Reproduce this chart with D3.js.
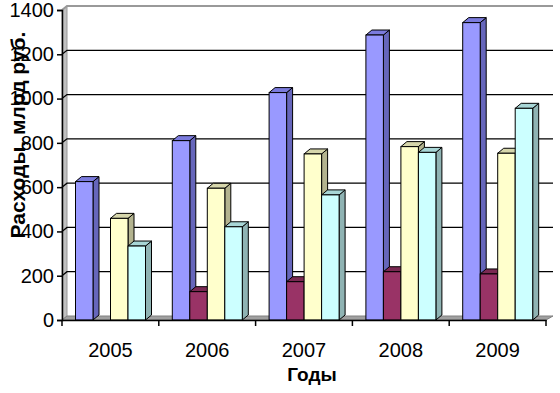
<!DOCTYPE html>
<html>
<head>
<meta charset="utf-8">
<script src="https://cdn.jsdelivr.net/npm/d3@7"></script>
<style>
  body { margin: 0; background: #fff; }
  text { font-family: "Liberation Sans", Arial, sans-serif; }
</style>
</head>
<body>
<div id="chart"></div>
<script>
// data
const years = ["2005", "2006", "2007", "2008", "2009"]
const seriesNames = ["s1", "s2", "s3", "s4"]
const s1 = [625, 810, 1027, 1287, 1343]
const s2 = [0, 128, 173, 218, 208]
const s3 = [459, 595, 750, 783, 753]
const s4 = [334, 421, 565, 757, 956]
const yTicks = [0, 200, 400, 600, 800, 1000, 1200, 1400]

const allSeries = [s1, s2, s3, s4]
// front, side, top colours for each series
const colors = [
  ["#9999FF", "#6666BB", "#7B7BDD"],
  ["#993366", "#66223F", "#7A2952"],
  ["#FFFFCC", "#B3B38F", "#D6D6AB"],
  ["#CCFFFF", "#8FB3B3", "#A8D6D6"]
]

const width = 560, height = 393
const dx = 6, dy = 5   // 3d depth of bars
const wx = 5, wy = 4   // depth of back wall

const svg = d3.select("#chart")
  .append("svg")
    .attr("width", width)
    .attr("height", height)

const x0 = d3.scaleBand().domain(years).range([62, 546])
const x1 = d3.scaleBand().domain(seriesNames).range([13.5, 83.5])
const y = d3.scaleLinear().domain([0, 1400]).range([320, 10])

// left wall and floor
svg.append("path")
  .attr("d", `M62,${y(0)}L62,${y(1400)}L${62 + wx},${y(1400) - wy}L${62 + wx},${y(0) - wy}Z`)
  .attr("fill", "#C0C0C0")
  .attr("stroke", "#999")
svg.append("path")
  .attr("d", `M62,${y(0)}L546,${y(0)}L${546 + wx + 2},${y(0) - wy}L${62 + wx},${y(0) - wy}Z`)
  .attr("fill", "#A0A0A0")
  .attr("stroke", "#808080")

// gridlines on back wall
svg.selectAll(".grid")
  .data(yTicks.slice(1))
  .enter()
  .append("path")
    .attr("d", d => `M62,${y(d)}L${62 + wx},${y(d) - wy}L${553},${y(d) - wy}`)
    .attr("fill", "none")
    .attr("stroke", d => d == 1400 ? "#999" : "#000")
    .attr("stroke-width", d => d == 1400 ? 2 : 1.3)

// bars, drawn left to right so they overlap properly
const barData = []
years.forEach((yr, i) => {
  allSeries.forEach((s, j) => {
    if (s[i] > 0) barData.push({ year: yr, k: j, value: s[i] })
  })
})

const bars = svg.selectAll(".bar")
  .data(barData)
  .enter()
  .append("g")

bars.each(function (d) {
  const g = d3.select(this)
  const left = x0(d.year) + x1(seriesNames[d.k])
  const w = x1.bandwidth()
  const top = y(d.value)
  const bottom = y(0)
  const c = colors[d.k]
  // side
  g.append("path")
    .attr("d", `M${left + w},${bottom}L${left + w},${top}L${left + w + dx},${top - dy}L${left + w + dx},${bottom - dy}Z`)
    .attr("fill", c[1]).attr("stroke", "#000").attr("stroke-width", 1)
  // top
  g.append("path")
    .attr("d", `M${left},${top}L${left + dx},${top - dy}L${left + w + dx},${top - dy}L${left + w},${top}Z`)
    .attr("fill", c[2]).attr("stroke", "#000").attr("stroke-width", 1)
  // front
  g.append("rect")
    .attr("x", left).attr("y", top)
    .attr("width", w).attr("height", bottom - top)
    .attr("fill", c[0]).attr("stroke", "#000").attr("stroke-width", 1)
})

// axes
const yAxis = d3.axisLeft(y).tickValues(yTicks).tickFormat(d3.format("d")).tickSize(5).tickPadding(3)
svg.append("g")
  .attr("transform", "translate(62,0)")
  .call(yAxis)
  .call(g => g.selectAll("text").attr("font-size", 20).attr("fill", "#000"))
  .call(g => g.selectAll("line, path").attr("stroke", "#000").attr("stroke-width", 1.5))

const xAxis = d3.axisBottom(x0).tickSize(0).tickPadding(23)
svg.append("g")
  .attr("transform", `translate(0,${y(0)})`)
  .call(xAxis)
  .call(g => g.selectAll("text").attr("font-size", 20).attr("fill", "#000"))
  .call(g => g.select(".domain").attr("stroke", "#000").attr("stroke-width", 1.5))

// ticks between categories
svg.selectAll(".xtick")
  .data(years.concat(["end"]))
  .enter()
  .append("line")
    .attr("x1", (d, i) => i < years.length ? x0(d) : x0.range()[1])
    .attr("x2", (d, i) => i < years.length ? x0(d) : x0.range()[1])
    .attr("y1", y(0))
    .attr("y2", y(0) + 6)
    .attr("stroke", "#000")
    .attr("stroke-width", 1.5)

// titles
svg.append("text")
  .attr("x", 312)
  .attr("y", 381)
  .attr("text-anchor", "middle")
  .attr("font-size", 19)
  .attr("font-weight", "bold")
  .text("Годы")

svg.append("text")
  .attr("transform", "translate(25,135) rotate(-90)")
  .attr("text-anchor", "middle")
  .attr("font-size", 21)
  .attr("font-weight", "bold")
  .text("Расходы, млрд руб.")
</script>
</body>
</html>
